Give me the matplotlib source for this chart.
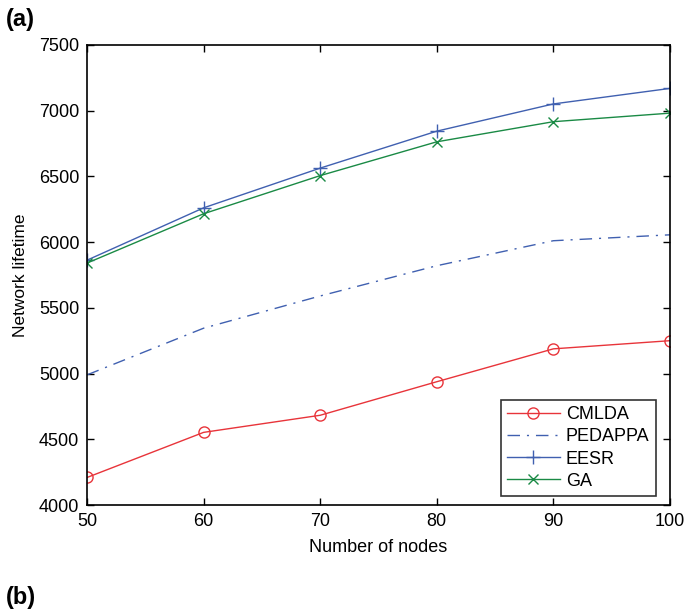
import matplotlib
matplotlib.use("Agg")
import matplotlib.pyplot as plt

plt.rcParams['font.family'] = ['Liberation Sans', 'DejaVu Sans']

nodes = [50, 60, 70, 80, 90, 100]
cmlda = [4210, 4553, 4683, 4938, 5188, 5250]
pedappa = [4990, 5345, 5590, 5820, 6010, 6055]
eesr = [5862, 6260, 6562, 6843, 7050, 7168]
ga = [5840, 6215, 6505, 6762, 6915, 6980]

xticks = [50, 60, 70, 80, 90, 100]
yticks = [4000, 4500, 5000, 5500, 6000, 6500, 7000, 7500]

fig = plt.figure(figsize=(6.85, 6.13), dpi=100)
ax = fig.add_axes([0.127, 0.176, 0.851, 0.751])

red = '#e8343a'
blue = '#4060b0'
green = '#1a8a45'

ax.plot(nodes, cmlda, color=red, lw=1.0, marker='o', ms=8, mfc='none', mec=red, mew=1.0, label='CMLDA')
ax.plot(nodes, pedappa, color=blue, lw=1.0, dashes=[9, 5, 1.5, 5], label='PEDAPPA')
ax.plot(nodes, eesr, color=blue, lw=1.0, marker='+', ms=10, mew=1.0, label='EESR')
ax.plot(nodes, ga, color=green, lw=1.0, marker='x', ms=7, mew=1.0, label='GA')

ax.set_xlim(50, 100)
ax.set_ylim(4000, 7500)
ax.set_xticks(xticks)
ax.set_yticks(yticks)
ax.tick_params(direction='in', top=True, right=True, length=5, width=1.0,
               labelsize=13, pad=5.5)
for s in ax.spines.values():
    s.set_linewidth(1.2)

ax.set_xlabel('Number of nodes', fontsize=13, labelpad=7)
ax.set_ylabel('Network lifetime', fontsize=12.5, labelpad=8)

leg = ax.legend(loc='lower right', bbox_to_anchor=(0.976, 0.0196), borderaxespad=0,
                fontsize=13, frameon=True, fancybox=False, edgecolor='black',
                handlelength=2.9, handletextpad=0.35, labelspacing=0.29,
                borderpad=0.35)
leg.get_frame().set_linewidth(1.2)

fig.text(0.008, 0.968, '(a)', fontsize=17, fontweight='bold', va='center')
fig.text(0.008, 0.025, '(b)', fontsize=17, fontweight='bold', va='center')

fig.savefig('out.png', dpi=100)
